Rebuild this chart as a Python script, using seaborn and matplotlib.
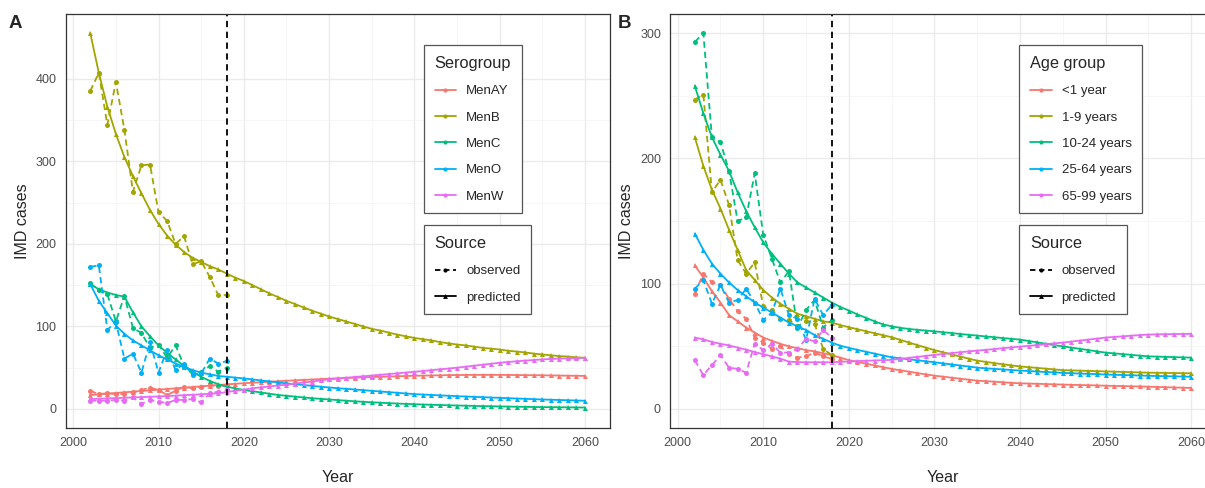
import numpy as np
import pandas as pd
import matplotlib
matplotlib.use("Agg")
import matplotlib.pyplot as plt
import seaborn as sns
from matplotlib.lines import Line2D

# Datos observados (2002-2018) y predichos (2002-2060)
obs_years = list(range(2002, 2019))
pred_years = list(range(2002, 2061))

serogroups = ["MenAY", "MenB", "MenC", "MenO", "MenW"]
age_groups = ["<1 year", "1-9 years", "10-24 years", "25-64 years", "65-99 years"]

# Panel A - observado
obs_menay = [22, 18, 19, 18, 18, 20, 23, 26, 23, 17, 22, 27, 25, 27, 29, 28, 29]
obs_menb = [385, 407, 344, 396, 338, 263, 295, 296, 238, 228, 200, 209, 175, 179, 160, 138, 138]
obs_menc = [152, 144, 139, 106, 137, 98, 92, 74, 78, 62, 77, 52, 42, 45, 52, 45, 50]
obs_meno = [172, 174, 96, 105, 61, 67, 44, 81, 44, 72, 47, 55, 41, 43, 61, 55, 58]
obs_menw = [10, 10, 10, 11, 10, 14, 6, 11, 9, 7, 11, 11, 12, 8, 19, 21, 23]

# Panel A - predicho
pred_menay = [17, 17.8, 18.6, 19.4, 20.2, 21, 21.8, 22.6, 23.4, 24.2,
              25, 25.8, 26.6, 27.4, 28.2, 29, 29.8, 30.5, 31.2, 31.8,
              32.4, 33, 33.6, 34.2, 34.7, 35.2, 35.7, 36.2, 36.7, 37.1,
              37.5, 37.9, 38.3, 38.7, 39, 39.3, 39.6, 39.9, 40.2, 40.4,
              40.6, 40.8, 41, 41.1, 41.2, 41.3, 41.3, 41.3, 41.3, 41.2,
              41.1, 41, 40.9, 40.8, 40.6, 40.5, 40.3, 40.2, 40]
pred_menb = [455, 407, 366, 333, 305, 282, 261, 241, 224, 210,
             199, 190, 183, 178, 173, 169, 164, 159, 155, 150,
             145, 140, 135.5, 131, 127, 123, 119, 115.5, 112, 109,
             106, 103, 100, 97, 95, 92.5, 90, 88, 86, 84.5,
             83, 81, 79.5, 78, 77, 75.5, 74, 73, 72, 70.5,
             69.5, 68.5, 67, 66, 65, 64, 63.5, 62.5, 62]
pred_menc = [151, 145, 141, 138, 136, 117, 100, 88, 77, 68,
             60, 52, 45, 39, 34, 30, 27, 25, 23, 21.5,
             20, 18.5, 17, 16, 15, 14, 13, 12.3, 11.5, 10.8,
             10, 9.3, 8.7, 8.1, 7.6, 7.1, 6.6, 6.2, 5.8, 5.4,
             5.1, 4.8, 4.5, 4.2, 4, 3.7, 3.5, 3.3, 3.1, 2.9,
             2.7, 2.6, 2.4, 2.3, 2.2, 2.1, 2, 1.9, 1.8]
pred_meno = [151, 131, 116, 101, 91, 83, 77, 71, 65, 60,
             55, 51, 47, 44, 42, 40, 39, 38, 37, 35.8,
             34.6, 33.4, 32.2, 31, 30, 29, 28, 27, 26, 25.2,
             24.4, 23.6, 22.8, 22, 21.2, 20.4, 19.6, 18.8, 18, 17.5,
             17, 16.5, 16, 15.5, 15.1, 14.7, 14.3, 13.9, 13.5, 13.1,
             12.7, 12.3, 11.9, 11.5, 11.2, 10.9, 10.6, 10.3, 10]
pred_menw = [12, 12.4, 12.8, 13.2, 13.6, 14, 14.4, 14.8, 15.2, 15.7,
             16.2, 16.7, 17.2, 17.8, 18.4, 19, 20.5, 22, 23.5, 25,
             26.2, 27.3, 28.4, 29.5, 30.8, 32, 33.2, 34.6, 36, 36.9,
             37.8, 38.7, 39.6, 40.5, 41.4, 42.3, 43.2, 44.1, 45, 46,
             47, 48, 49, 50, 51.2, 52.4, 53.6, 54.8, 56, 56.9,
             57.8, 58.6, 59.3, 60, 60.5, 61, 61.4, 61.7, 62]

# Panel B - observado
obs_lt1 = [92, 108, 101, 99, 88, 78, 72, 57, 53, 48, 50, 44, 41, 42, 45, 42, 40]
obs_1_9 = [247, 251, 173, 183, 163, 119, 108, 117, 82, 79, 72, 71, 66, 70, 68, 48, 43]
obs_10_24 = [293, 300, 217, 213, 190, 150, 153, 188, 139, 120, 101, 110, 65, 79, 87, 65, 71]
obs_25_64 = [96, 103, 84, 99, 85, 87, 96, 85, 71, 77, 96, 75, 72, 55, 88, 75, 83]
obs_65_99 = [39, 27, 35, 43, 33, 32, 29, 52, 47, 52, 45, 45, 48, 56, 54, 63, 57]

# Panel B - predicho
pred_lt1 = [114.6, 105, 94, 85, 75, 70, 65, 61, 57, 54.5,
            52, 50, 48.5, 47, 46, 44.5, 43, 41, 39, 37.6,
            36.2, 34.8, 33.4, 32, 30.9, 29.8, 28.7, 27.6, 26.6, 25.8,
            25, 24.2, 23.4, 22.6, 22.2, 21.8, 21.3, 20.9, 20.5, 20.3,
            20.1, 19.9, 19.7, 19.5, 19.3, 19.1, 19, 18.8, 18.6, 18.4,
            18.3, 18.1, 18, 17.8, 17.6, 17.4, 17.2, 17, 16.8]
pred_1_9 = [217, 194, 175, 160, 143, 127, 111, 103, 95, 89,
            84, 80, 76, 74, 72, 70, 69, 67, 65.3, 63.7,
            62.1, 60.5, 58.9, 57.3, 55.2, 53.1, 51, 49, 47, 45.3,
            43.6, 41.9, 40.2, 38.6, 37.6, 36.6, 35.7, 34.8, 34, 33.4,
            32.8, 32.2, 31.6, 31, 30.8, 30.6, 30.4, 30.2, 30, 29.8,
            29.6, 29.4, 29.2, 29, 28.9, 28.8, 28.7, 28.6, 28.5]
pred_10_24 = [258, 236, 217, 203, 190, 173, 158, 145, 133, 124,
              116, 108, 101, 97, 93, 89, 85, 81.5, 78.6, 75.5,
              72.8, 70, 67.5, 66, 64.8, 63.9, 63.2, 62.6, 62, 61.3,
              60.6, 59.9, 59.2, 58.6, 57.9, 57.3, 56.6, 56, 55.4, 54.3,
              53.2, 52.1, 51, 50, 49, 48, 47, 46, 45, 44.4,
              43.8, 43.2, 42.6, 42, 41.8, 41.6, 41.4, 41.2, 41]
pred_25_64 = [140, 127, 116, 108, 101, 95, 90, 85, 81, 77,
              73, 69, 66, 63, 59, 56, 53, 50.5, 48.8, 47.2,
              45.7, 44.2, 42.7, 41.3, 40.5, 39.7, 38.9, 38.1, 37.3, 36.4,
              35.6, 34.7, 33.9, 33, 32.5, 32, 31.6, 31.1, 30.7, 30.3,
              29.9, 29.5, 29.2, 28.8, 28.5, 28.3, 28, 27.8, 27.5, 27.3,
              27.1, 26.9, 26.7, 26.5, 26.3, 26.2, 26, 25.9, 25.7]
pred_65_99 = [57, 55.6, 53.5, 52, 50.8, 49, 47.4, 45.5, 43.7, 42,
              40.2, 37.8, 37.4, 37.3, 37.3, 37.3, 37.3, 37.6, 38, 38.2,
              38.5, 38.7, 39, 39.2, 40, 40.8, 41.6, 42.4, 43.2, 43.9,
              44.6, 45.3, 46, 46.6, 47.2, 47.8, 48.5, 49.2, 49.8, 50.4,
              51, 51.7, 52.4, 53, 53.8, 54.6, 55.4, 56.2, 57, 57.5,
              58, 58.5, 59, 59.4, 59.6, 59.7, 59.8, 59.9, 60]

colores = ["#F8766D", "#A3A500", "#00BF7D", "#00B0F6", "#E76BF3"]


def armar_df(grupos, observados, predichos):
    filas = []
    for g, o, p in zip(grupos, observados, predichos):
        for y, v in zip(obs_years, o):
            filas.append((g, "observed", y, v))
        for y, v in zip(pred_years, p):
            filas.append((g, "predicted", y, v))
    return pd.DataFrame(filas, columns=["grupo", "Source", "Year", "cases"])


df_a = armar_df(serogroups, [obs_menay, obs_menb, obs_menc, obs_meno, obs_menw],
                [pred_menay, pred_menb, pred_menc, pred_meno, pred_menw])
df_b = armar_df(age_groups, [obs_lt1, obs_1_9, obs_10_24, obs_25_64, obs_65_99],
                [pred_lt1, pred_1_9, pred_10_24, pred_25_64, pred_65_99])

sns.set_style("white")
plt.rcParams["font.family"] = ["Liberation Sans", "DejaVu Sans"]

fig = plt.figure(figsize=(12.05, 4.88), dpi=100)
ax_a = fig.add_axes([0.0544, 0.1234, 0.4516, 0.8471])
ax_b = fig.add_axes([0.556, 0.1234, 0.4531, 0.8471])

leg_kw = dict(loc="upper left", bbox_transform=fig.transFigure, fancybox=False,
              edgecolor="#555555", framealpha=1, fontsize=9.5, title_fontsize=11.8,
              alignment="left", handlelength=1.65, handletextpad=0.75,
              labelspacing=1.07, borderpad=0.8, borderaxespad=0)


def dibujar(ax, df, grupos, ylim, yticks, titulo_leg, x_leg):
    sns.lineplot(data=df, x="Year", y="cases", hue="grupo", hue_order=grupos,
                 style="Source", style_order=["observed", "predicted"],
                 markers={"observed": "o", "predicted": "^"},
                 dashes={"observed": (3.5, 2.2), "predicted": ""},
                 palette=colores, ax=ax, legend=False, markersize=3.6,
                 markeredgewidth=0, linewidth=1.3, errorbar=None)
    ax.axvline(2018, color="black", linestyle=(0, (3.5, 2.5)), linewidth=1.3)
    ax.set_xlim(1999.1, 2062.9)
    ax.set_ylim(*ylim)
    ax.set_xticks(range(2000, 2061, 10))
    ax.set_xticks(range(2005, 2060, 10), minor=True)
    ax.set_yticks(yticks)
    ax.set_yticks([t + 50 for t in yticks[:-1]], minor=True)
    ax.grid(True, which="major", color="#EBEBEB", linewidth=1.0)
    ax.grid(True, which="minor", color="#F5F5F5", linewidth=0.6)
    ax.set_axisbelow(True)
    for s in ax.spines.values():
        s.set_color("#333333")
        s.set_linewidth(0.9)
    ax.tick_params(axis="both", which="major", length=3, width=0.8, color="#333333",
                   labelcolor="#4D4D4D", labelsize=9)
    ax.tick_params(which="minor", length=0)
    ax.set_xlabel("Year", fontsize=11.5, labelpad=15)
    ax.set_ylabel("IMD cases", fontsize=11.5, labelpad=4)

    h1 = [Line2D([0], [0], color=c, lw=1.3, marker="o", markersize=3, markeredgewidth=0)
          for c in colores]
    leg1 = ax.legend(h1, grupos, title=titulo_leg, bbox_to_anchor=(x_leg, 0.907), **leg_kw)
    leg1.get_frame().set_linewidth(0.9)
    ax.add_artist(leg1)
    h2 = [Line2D([0], [0], color="black", lw=1.3, linestyle=(0, (3, 2)), marker="o",
                 markersize=3, markeredgewidth=0),
          Line2D([0], [0], color="black", lw=1.3, marker="^", markersize=3.5,
                 markeredgewidth=0)]
    leg2 = ax.legend(h2, ["observed", "predicted"], title="Source",
                     bbox_to_anchor=(x_leg, 0.538), **leg_kw)
    leg2.get_frame().set_linewidth(0.9)


dibujar(ax_a, df_a, serogroups, (-22.75, 477.75), [0, 100, 200, 300, 400], "Serogroup", 0.3519)
dibujar(ax_b, df_b, age_groups, (-15, 315), [0, 100, 200, 300], "Age group", 0.8459)

fig.text(0.007, 0.951, "A", fontsize=13.5, fontweight="bold", va="center")
fig.text(0.513, 0.951, "B", fontsize=13.5, fontweight="bold", va="center")

fig.savefig("out.png", dpi=100)
